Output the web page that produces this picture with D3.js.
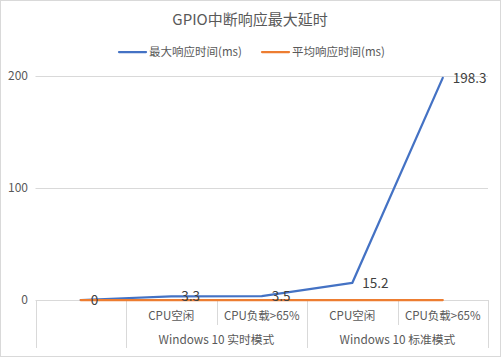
<!DOCTYPE html>
<html><head><meta charset="utf-8">
<script src="https://cdn.jsdelivr.net/npm/d3@7"></script>
<style>
html,body{margin:0;padding:0;background:#fff;}
svg{display:block;}
text{font-family:"Noto Sans CJK SC","Noto Sans",sans-serif;}
</style></head>
<body>
<script>
const title = "GPIO中断响应最大延时";
const subCategories = ["", "CPU空闲", "CPU负载>65%", "CPU空闲", "CPU负载>65%"];
const groups = [
  {label: "", from: 0, to: 0},
  {label: "Windows 10 实时模式", from: 1, to: 2},
  {label: "Windows 10 标准模式", from: 3, to: 4}
];
const seriesNames = ["最大响应时间(ms)", "平均响应时间(ms)"];
const maxValues = [0, 3.3, 3.5, 15.2, 198.3];
const avgValues = [0, 0, 0, 0, 0];
const yTicks = [0, 100, 200];
const colors = ["#4472C4", "#ED7D31"];

const W = 501, H = 357;
const svg = d3.select("body").append("svg").attr("width", W).attr("height", H);
svg.append("rect").attr("x", 0.5).attr("y", 0.5).attr("width", W - 1).attr("height", H - 1)
  .attr("fill", "#fff").attr("stroke", "#d9d9d9");

const x = d3.scaleBand().domain(d3.range(subCategories.length)).range([35.5, 488]);
const y = d3.scaleLinear().domain([0, 200]).range([300, 76]);
const cx = i => x(i) + x.bandwidth() / 2;

// gridlines
svg.append("g").selectAll("line").data(yTicks).join("line")
  .attr("x1", x.range()[0]).attr("x2", x.range()[1])
  .attr("y1", d => Math.round(y(d)) + 0.5).attr("y2", d => Math.round(y(d)) + 0.5)
  .attr("stroke", "#d9d9d9").attr("stroke-width", 1);

// y labels
svg.append("g").selectAll("text").data(yTicks).join("text")
  .attr("x", 28).attr("y", d => y(d)).attr("dy", "0.35em")
  .attr("text-anchor", "end").attr("font-size", 12).attr("fill", "#595959")
  .text(d => d);

// category axis dividers
const edges = d3.range(subCategories.length + 1).map(i => i < subCategories.length ? x(i) : x.range()[1]);
const axisG = svg.append("g");
edges.forEach((e, i) => {
  const full = (i === 0 || i === edges.length - 1 || groups.some(g => g.from === i));
  axisG.append("line")
    .attr("x1", Math.round(e) + 0.5).attr("x2", Math.round(e) + 0.5)
    .attr("y1", 300).attr("y2", full ? 348 : 325)
    .attr("stroke", "#d9d9d9");
});
axisG.selectAll("text.sub").data(subCategories).join("text").attr("class", "sub")
  .attr("x", (d, i) => cx(i)).attr("y", 316).attr("dy", "0.35em")
  .attr("text-anchor", "middle").attr("font-size", 11.5).attr("fill", "#595959")
  .text(d => d);
axisG.selectAll("text.grp").data(groups).join("text").attr("class", "grp")
  .attr("x", d => (x(d.from) + x(d.to) + x.bandwidth()) / 2).attr("y", 340).attr("dy", "0.35em")
  .attr("text-anchor", "middle").attr("font-size", 11.8).attr("fill", "#595959")
  .text(d => d.label);

// lines
const line = d3.line().x((d, i) => cx(i)).y(d => y(d));
[maxValues, avgValues].forEach((vals, k) => {
  svg.append("path").datum(vals).attr("d", line)
    .attr("fill", "none").attr("stroke", colors[k]).attr("stroke-width", 2.25)
    .attr("stroke-linejoin", "round").attr("stroke-linecap", "round");
});
// data labels
svg.append("g").selectAll("text").data(maxValues).join("text")
  .attr("x", (d, i) => cx(i) + 10).attr("y", d => y(d)).attr("dy", "0.35em")
  .attr("text-anchor", "start").attr("font-size", 13.5).attr("fill", "#404040")
  .text(d => d);

// title
svg.append("text").attr("x", 250).attr("y", 20).attr("dy", "0.35em")
  .attr("text-anchor", "middle").attr("font-size", 15).attr("fill", "#595959")
  .text(title);

// legend
const leg = svg.append("g");
const legX = [119, 262];
seriesNames.forEach((n, k) => {
  leg.append("line").attr("x1", legX[k]).attr("x2", legX[k] + 27).attr("y1", 52).attr("y2", 52)
    .attr("stroke", colors[k]).attr("stroke-width", 2.25).attr("stroke-linecap", "round");
  leg.append("text").attr("x", legX[k] + 30).attr("y", 52).attr("dy", "0.35em")
    .attr("font-size", 11.5).attr("fill", "#595959").text(n);
});
</script>
</body></html>
